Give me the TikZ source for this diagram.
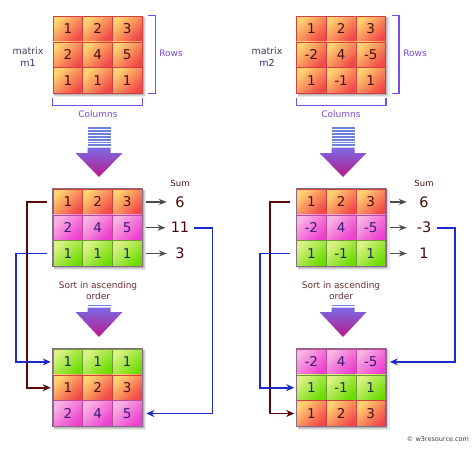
\documentclass[tikz,border=0pt]{standalone}
\usepackage{fontspec}
\setmainfont{DejaVu Sans}
\usetikzlibrary{arrows.meta,calc}
\definecolor{orTL}{HTML}{FFD470}
\definecolor{orBR}{HTML}{F24848}
\definecolor{orBd}{HTML}{D04040}
\definecolor{orTx}{HTML}{4A1010}
\definecolor{pkTL}{HTML}{F8B4E2}
\definecolor{pkBR}{HTML}{EE3ED0}
\definecolor{pkBd}{HTML}{C04A9A}
\definecolor{pkTx}{HTML}{3A1A7A}
\definecolor{gnTL}{HTML}{DCF286}
\definecolor{gnBR}{HTML}{6ADC00}
\definecolor{gnBd}{HTML}{6C9A34}
\definecolor{gnTx}{HTML}{1A3050}
\definecolor{brk}{HTML}{7A4CE0}
\definecolor{lblgray}{HTML}{404058}
\definecolor{lblm}{HTML}{3A2A80}
\definecolor{arrTop}{HTML}{7A6AE6}
\definecolor{arrBot}{HTML}{BC1888}
\definecolor{stripe}{HTML}{6C80DC}
\definecolor{cred}{HTML}{5A0808}
\definecolor{cblue}{HTML}{1C2AC8}
\definecolor{sumtx}{HTML}{4A0A0A}
\definecolor{sorttx}{HTML}{6A3030}
\definecolor{mframe}{HTML}{8A6A8A}
\newcommand\mrow[7]{%
  \node[cell,#4] (#1a) at ({#2+14.85},#3) {#5};
  \node[cell,#4] (#1b) at ({#2+44.55},#3) {#6};
  \node[cell,#4] (#1c) at ({#2+74.25},#3) {#7};}
\newcommand\mshadow[2]{%
  \fill[black,opacity=0.08] ({#1+1},{#2+1}) rectangle ({#1+93.1},{#2+81.4});
  \fill[black,opacity=0.10] ({#1+1},{#2+1}) rectangle ({#1+91.6},{#2+79.9});
  \fill[black,opacity=0.14] ({#1+1},{#2+1}) rectangle ({#1+90.6},{#2+78.9});}
\newcommand\bigarrow[6]{% xc, first stripe y, number of stripes, shaft top, triangle top, tip
  \foreach \i in {1,...,#3}{\fill[stripe] ({#1-11.5},{#2+(\i-1)*2.9}) rectangle ++(23,1.9);}
  \shade[top color=arrTop, bottom color=arrBot]
    ({#1-11.5},#4) -- ({#1+11.5},#4) -- ({#1+11.5},#5) -- ({#1+23.5},#5)
    -- (#1,#6) -- ({#1-23.5},#5) -- ({#1-11.5},#5) -- cycle;}
\tikzset{
  cell/.style={minimum width=29.7pt, minimum height=25.8pt, inner sep=0pt,
    line width=0.6pt, font=\fontsize{13.5}{15}\selectfont},
  corange/.style={top color=orTL, bottom color=orBR, shading angle=45, draw=orBd, text=orTx},
  cpink/.style={top color=pkTL, bottom color=pkBR, shading angle=45, draw=pkBd, text=pkTx},
  cgreen/.style={top color=gnTL, bottom color=gnBR, shading angle=45, draw=gnBd, text=gnTx},
  brkline/.style={draw=brk, line width=1.2pt},
  brklbl/.style={text=brk, font=\fontsize{9}{11}\selectfont},
  mlbl/.style={align=center, font=\fontsize{9.5}{12}\selectfont},
  sumnum/.style={minimum width=16pt, inner sep=0pt, text=sumtx, font=\fontsize{14.5}{16}\selectfont},
  sumlbl/.style={text=sumtx, font=\fontsize{8.5}{10}\selectfont},
  sumarr/.style={draw=black!70, line width=1.3pt, -{Stealth[length=8pt,width=6pt]}},
  sortlbl/.style={align=center, text=sorttx, font=\fontsize{9}{11}\selectfont},
  redc/.style={draw=cred, line width=1.6pt, -{Stealth[length=8pt,width=7pt]}},
  bluec/.style={draw=cblue, line width=1.6pt, -{Stealth[length=8pt,width=7pt]}},
}
\begin{document}
\begin{tikzpicture}[x=1pt,y=-1pt]
\useasboundingbox (0,0) rectangle (474,448);
\fill[white] (0,0) rectangle (474,448);
% ---------- shadows
\mshadow{53}{16}
\mshadow{296.5}{16}
\mshadow{53}{189}
\mshadow{296.5}{189}
\mshadow{53}{349}
\mshadow{296.5}{349}
% ---------- left column
\mrow{A1}{53}{28.9}{corange}{1}{2}{3}
\mrow{A2}{53}{54.7}{corange}{2}{4}{5}
\mrow{A3}{53}{80.5}{corange}{1}{1}{1}
\mrow{B1}{53}{201.9}{corange}{1}{2}{3}
\mrow{B2}{53}{227.7}{cpink}{2}{4}{5}
\mrow{B3}{53}{253.5}{cgreen}{1}{1}{1}
\mrow{C1}{53}{361.9}{cgreen}{1}{1}{1}
\mrow{C2}{53}{387.7}{corange}{1}{2}{3}
\mrow{C3}{53}{413.5}{cpink}{2}{4}{5}
% ---------- right column
\mrow{D1}{296.5}{28.9}{corange}{1}{2}{3}
\mrow{D2}{296.5}{54.7}{corange}{-2}{4}{-5}
\mrow{D3}{296.5}{80.5}{corange}{1}{-1}{1}
\mrow{E1}{296.5}{201.9}{corange}{1}{2}{3}
\mrow{E2}{296.5}{227.7}{cpink}{-2}{4}{-5}
\mrow{E3}{296.5}{253.5}{cgreen}{1}{-1}{1}
\mrow{F1}{296.5}{361.9}{cpink}{-2}{4}{-5}
\mrow{F2}{296.5}{387.7}{cgreen}{1}{-1}{1}
\mrow{F3}{296.5}{413.5}{corange}{1}{2}{3}
% ---------- matrix frames
\draw[mframe, line width=0.6pt] (B1a.north west) rectangle (B3c.south east);
\draw[mframe, line width=0.6pt] (C1a.north west) rectangle (C3c.south east);
\draw[mframe, line width=0.6pt] (E1a.north west) rectangle (E3c.south east);
\draw[mframe, line width=0.6pt] (F1a.north west) rectangle (F3c.south east);
% ---------- brackets and labels
\draw[brkline] ([xshift=6pt]A1c.north east) -- ++(7,0) |- ([xshift=6pt]A3c.south east);
\draw[brkline] ([yshift=-4.6pt]A3a.south west) -- ++(0,7) -| ([yshift=-4.6pt]A3c.south east);
\draw[brkline] ([xshift=6pt]D1c.north east) -- ++(7,0) |- ([xshift=6pt]D3c.south east);
\draw[brkline] ([yshift=-4.6pt]D3a.south west) -- ++(0,7) -| ([yshift=-4.6pt]D3c.south east);
\node[brklbl] (rowsL) at (171,53) {Rows};
\node[brklbl] (colsL) at (98,114.5) {Columns};
\node[brklbl] (rowsR) at (415,53) {Rows};
\node[brklbl] (colsR) at (341,114.5) {Columns};
\node[mlbl] (m1) at (28,57) {\textcolor{lblgray}{matrix}\\\textcolor{lblm}{m1}};
\node[mlbl] (m2) at (267,57) {\textcolor{lblgray}{matrix}\\\textcolor{lblm}{m2}};
% ---------- big arrows
\bigarrow{99}{127}{7}{147.5}{153}{177}
\bigarrow{343}{127}{7}{147.5}{153}{177}
\bigarrow{99}{304.5}{1}{307.5}{312}{337}
\bigarrow{343}{304.5}{1}{307.5}{312}{337}
% ---------- sums
\node[sumlbl] (sumL) at (180,183) {Sum};
\node[sumlbl] (sumR) at (424,183) {Sum};
\node[sumnum] (s1) at (180,201.9) {6};
\node[sumnum] (s2) at (180,227.7) {11};
\node[sumnum] (s3) at (180,253.5) {3};
\node[sumnum] (s4) at (424,201.9) {6};
\node[sumnum] (s5) at (424,227.7) {-3};
\node[sumnum] (s6) at (424,253.5) {1};
\draw[sumarr, shorten <=4pt, shorten >=5pt] (B1c) -- (s1);
\draw[sumarr, shorten <=4pt, shorten >=5pt] (B2c) -- (s2);
\draw[sumarr, shorten <=4pt, shorten >=5pt] (B3c) -- (s3);
\draw[sumarr, shorten <=4pt, shorten >=9pt] (E1c) -- (s4);
\draw[sumarr, shorten <=4pt, shorten >=9pt] (E2c) -- (s5);
\draw[sumarr, shorten <=4pt, shorten >=9pt] (E3c) -- (s6);
% ---------- sort labels
\node[sortlbl] (sortL) at (98,290.5) {Sort in ascending\\order};
\node[sortlbl] (sortR) at (341,290.5) {Sort in ascending\\order};
% ---------- connectors
\draw[redc, shorten <=6pt, shorten >=2pt] (B1a.west) -- ++(-26,0) |- (C2a.west);
\draw[bluec, shorten <=6pt, shorten >=2pt] (B3a.west) -- ++(-37,0) |- (C1a.west);
\draw[bluec, shorten <=5pt, shorten >=4pt] (s2.east) -- ++(23,0) |- (C3c.east);
\draw[redc, shorten <=6pt, shorten >=2pt] (E1a.west) -- ++(-26,0) |- (F3a.west);
\draw[bluec, shorten <=6pt, shorten >=2pt] (E3a.west) -- ++(-36,0) |- (F2a.west);
\draw[bluec, shorten <=5pt, shorten >=4pt] (s5.east) -- ++(23,0) |- (F1c.east);
% ---------- copyright
\node[text=black!75, font=\fontsize{6.5}{8}\selectfont] (copy) at (438,439) {© w3resource.com};
\end{tikzpicture}
\end{document}
